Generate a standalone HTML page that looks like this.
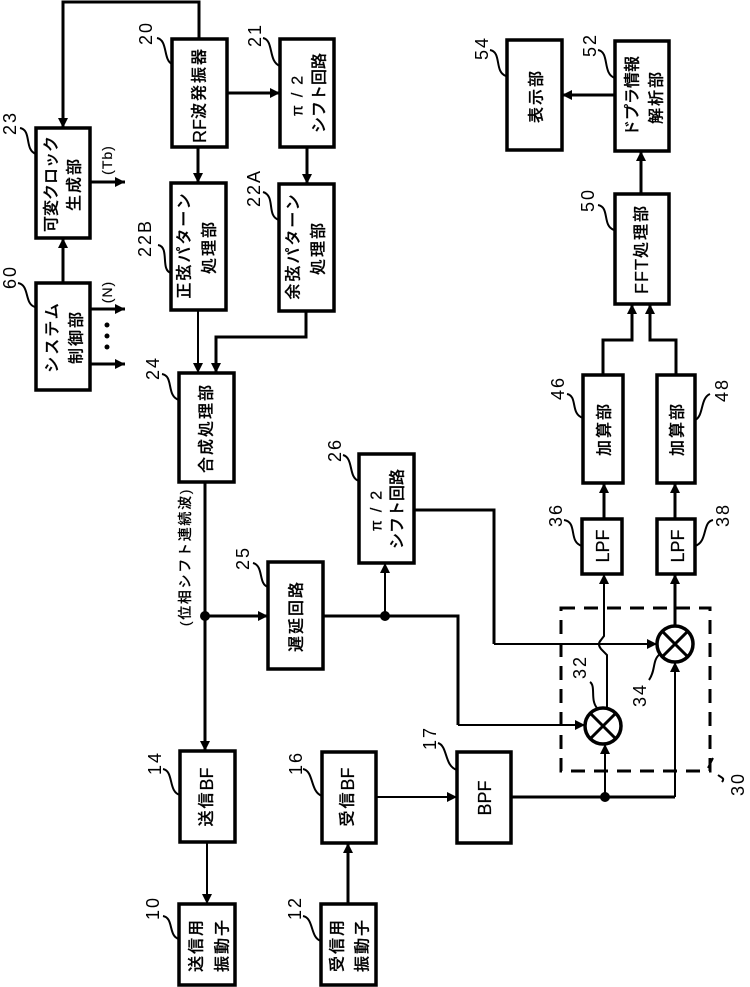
<!DOCTYPE html>
<html><head><meta charset="utf-8"><style>
html,body{margin:0;padding:0;background:#fff}
svg{display:block}
text{fill:#000;text-anchor:middle;dominant-baseline:central}
.j{font-family:"Liberation Sans","Noto Sans CJK JP",sans-serif;font-size:16px;font-weight:500;letter-spacing:2px;stroke:#000;stroke-width:.25}
.j tspan{font-size:18px;letter-spacing:0}
.s{letter-spacing:0}
.n{font-family:"Liberation Sans",sans-serif;font-size:18px;letter-spacing:2px}
.b{fill:#fff;stroke:#000;stroke-width:3.5}
.w{fill:none;stroke:#000;stroke-width:3}
.t{fill:none;stroke:#000;stroke-width:2}
</style></head><body>
<svg width="750" height="987" viewBox="0 0 750 987" xmlns="http://www.w3.org/2000/svg">
<defs>
<marker id="a" markerUnits="userSpaceOnUse" markerWidth="12" markerHeight="12" refX="10" refY="5" orient="auto"><path d="M0 0L10 5L0 10z"/></marker>
</defs>
<g class="w">
<path d="M199 38V2H63V128" marker-end="url(#a)"/>
<path d="M63 283V238" marker-end="url(#a)"/>
<path d="M90 182H125" marker-end="url(#a)"/>
<path d="M90 309H125" marker-end="url(#a)"/>
<path d="M90 364H125" marker-end="url(#a)"/>
<path d="M227 93H280" marker-end="url(#a)"/>
<path d="M198 147V183" marker-end="url(#a)"/>
<path d="M307 147V184" marker-end="url(#a)"/>
<path class="t" d="M198 311V373" marker-end="url(#a)"/>
<path d="M306 311V337H216V373" marker-end="url(#a)"/>
<path d="M205 482V751" marker-end="url(#a)"/>
<path d="M205 616H268" marker-end="url(#a)"/>
<path d="M323 616H458V725"/>
<path class="t" d="M458 725H585" marker-end="url(#a)"/>
<path class="t" d="M385 616V563" marker-end="url(#a)"/>
<path d="M414 510H494V644"/>
<path class="t" d="M494 644H657" marker-end="url(#a)"/>
<path class="t" d="M607 708V655L601 649Q597 644 601 640L604 636V574" marker-end="url(#a)"/>
<path d="M675 626V574" marker-end="url(#a)"/>
<path d="M604 519V483" marker-end="url(#a)"/>
<path d="M675 519V483" marker-end="url(#a)"/>
<path d="M603 375V340H632V304" marker-end="url(#a)"/>
<path d="M676 375V340H650V304" marker-end="url(#a)"/>
<path d="M641 194V151" marker-end="url(#a)"/>
<path d="M615 95H562" marker-end="url(#a)"/>
<path d="M511 797H675"/>
<path class="t" d="M675 797V662" marker-end="url(#a)"/>
<path class="t" d="M605 797V744" marker-end="url(#a)"/>
<path class="t" d="M207 843V904" marker-end="url(#a)"/>
<path d="M348 904V843" marker-end="url(#a)"/>
<path class="t" d="M376 797H457" marker-end="url(#a)"/>
</g>
<circle cx="205" cy="616" r="5"/><circle cx="385" cy="616" r="5"/><circle cx="605" cy="797" r="5"/>
<circle cx="107" cy="325" r="2.5"/><circle cx="107" cy="336" r="2.5"/><circle cx="107" cy="347" r="2.5"/>
<g class="b">
<rect x="172" y="39" width="55" height="108"/>
<rect x="280" y="39" width="54" height="108"/>
<rect x="36" y="128" width="54" height="110"/>
<rect x="36" y="283" width="54" height="107"/>
<rect x="171" y="183" width="55" height="127"/>
<rect x="279" y="184" width="55" height="127"/>
<rect x="179" y="373" width="55" height="109"/>
<rect x="359" y="454" width="55" height="109"/>
<rect x="268" y="562" width="55" height="107"/>
<rect x="582" y="519" width="40" height="55"/>
<rect x="657" y="519" width="38" height="55"/>
<rect x="583" y="375" width="40" height="108"/>
<rect x="657" y="375" width="38" height="108"/>
<rect x="615" y="194" width="54" height="110"/>
<rect x="615" y="41" width="54" height="110"/>
<rect x="507" y="40" width="55" height="110"/>
<rect x="180" y="751" width="55" height="91"/>
<rect x="322" y="752" width="54" height="91"/>
<rect x="457" y="752" width="54" height="91"/>
<rect x="179" y="904" width="56" height="81"/>
<rect x="321" y="904" width="55" height="81"/>
<circle cx="603" cy="726" r="18"/>
<circle cx="675" cy="644" r="18"/>
</g>
<path class="w" d="M590 713L616 739M616 713L590 739M662 631L688 657M688 631L662 657"/>
<rect x="561" y="608" width="149" height="163" fill="none" stroke="#000" stroke-width="3" stroke-dasharray="14 9"/>
<g class="t">
<path d="M157 38C168 40 163 60 172 64"/>
<path d="M263 38C274 40 268 62 280 66"/>
<path d="M20 128C32 130 24 150 36 154"/>
<path d="M18 283C30 285 24 304 35 307"/>
<path d="M158 245C170 247 160 270 171 273"/>
<path d="M263 192C276 196 266 216 279 220"/>
<path d="M162 374C174 376 166 396 179 400"/>
<path d="M343 455C354 458 348 478 359 481"/>
<path d="M253 563C264 566 258 584 268 587"/>
<path d="M564 520C578 522 568 542 582 546"/>
<path d="M713 520C702 522 708 542 695 546"/>
<path d="M567 394C578 396 570 414 583 418"/>
<path d="M710 394C700 398 704 416 695 420"/>
<path d="M598 205C610 207 602 226 614 230"/>
<path d="M598 50C610 52 602 74 615 78"/>
<path d="M490 50C502 52 494 72 506 76"/>
<path d="M590 682C596 686 590 700 597 708"/>
<path d="M649 680C656 670 652 660 660 654"/>
<path d="M713 758L708 768M718 775C722 778 725 778 722 782"/>
<path d="M163 769C174 771 168 792 180 795"/>
<path d="M303 769C314 771 310 792 322 796"/>
<path d="M438 743C448 746 444 766 457 770"/>
<path d="M163 916C174 918 168 936 179 939"/>
<path d="M303 916C314 918 310 938 321 941"/>
</g>
<g class="j">
<text transform="translate(200 95) rotate(-90)"><tspan>RF</tspan>波発振器</text>
<text class="s" transform="translate(298 92) rotate(-90)" style="letter-spacing:8px">π/2</text>
<text class="s" transform="translate(320 93) rotate(-90)">シフト回路</text>
<text class="s" transform="translate(52 184) rotate(-90)">可変クロック</text>
<text transform="translate(75 184) rotate(-90)">生成部</text>
<text transform="translate(53 337) rotate(-90)">システム</text>
<text transform="translate(77 337) rotate(-90)">制御部</text>
<text transform="translate(185 245) rotate(-90)">正弦パターン</text>
<text transform="translate(210 247) rotate(-90)">処理部</text>
<text transform="translate(294 246) rotate(-90)">余弦パターン</text>
<text transform="translate(319 248) rotate(-90)">処理部</text>
<text transform="translate(207 428) rotate(-90)">合成処理部</text>
<text class="s" transform="translate(377 507) rotate(-90)" style="letter-spacing:8px">π/2</text>
<text class="s" transform="translate(398 509) rotate(-90)">シフト回路</text>
<text transform="translate(297 616) rotate(-90)">遅延回路</text>
<text transform="translate(603 546) rotate(-90)"><tspan>LPF</tspan></text>
<text transform="translate(678 546) rotate(-90)"><tspan>LPF</tspan></text>
<text transform="translate(605 429) rotate(-90)">加算部</text>
<text transform="translate(678 429) rotate(-90)">加算部</text>
<text transform="translate(642 249) rotate(-90)"><tspan style="letter-spacing:1px">FFT</tspan>処理部</text>
<text class="s" transform="translate(633 96) rotate(-90)">ドプラ情報</text>
<text transform="translate(657 97) rotate(-90)">解析部</text>
<text transform="translate(537 96) rotate(-90)">表示部</text>
<text transform="translate(207 797) rotate(-90)">送信<tspan>BF</tspan></text>
<text transform="translate(348 797) rotate(-90)">受信<tspan>BF</tspan></text>
<text transform="translate(485 798) rotate(-90)"><tspan>BPF</tspan></text>
<text transform="translate(197 945) rotate(-90)">送信用</text>
<text transform="translate(223 945) rotate(-90)">振動子</text>
<text transform="translate(338 945) rotate(-90)">受信用</text>
<text transform="translate(363 945) rotate(-90)">振動子</text>
<text transform="translate(185 557) rotate(-90)" style="font-size:14px;letter-spacing:1.7px;stroke-width:.15">(位相シフト連続波)</text>
<text transform="translate(107 160) rotate(-90)" style="font-size:14px;letter-spacing:1px;stroke-width:.15">(Tb)</text>
<text transform="translate(107 292) rotate(-90)" style="font-size:14px;letter-spacing:1px;stroke-width:.15">(N)</text>
</g>
<g class="n">
<text transform="translate(146 33) rotate(-90)">20</text>
<text transform="translate(255 35) rotate(-90)">21</text>
<text transform="translate(10 123) rotate(-90)">23</text>
<text transform="translate(10 277) rotate(-90)">60</text>
<text transform="translate(145 238) rotate(-90)">22B</text>
<text transform="translate(254 188) rotate(-90)">22A</text>
<text transform="translate(153 368) rotate(-90)">24</text>
<text transform="translate(335 450) rotate(-90)">26</text>
<text transform="translate(243 558) rotate(-90)">25</text>
<text transform="translate(155 763) rotate(-90)">14</text>
<text transform="translate(296 763) rotate(-90)">16</text>
<text transform="translate(430 738) rotate(-90)">17</text>
<text transform="translate(153 908) rotate(-90)">10</text>
<text transform="translate(295 908) rotate(-90)">12</text>
<text transform="translate(556 515) rotate(-90)">36</text>
<text transform="translate(723 515) rotate(-90)">38</text>
<text transform="translate(558 388) rotate(-90)">46</text>
<text transform="translate(722 390) rotate(-90)">48</text>
<text transform="translate(580 667) rotate(-90)">32</text>
<text transform="translate(640 695) rotate(-90)">34</text>
<text transform="translate(738 784) rotate(-90)">30</text>
<text transform="translate(588 200) rotate(-90)">50</text>
<text transform="translate(590 45) rotate(-90)">52</text>
<text transform="translate(482 48) rotate(-90)">54</text>
</g>
</svg>
</body></html>
